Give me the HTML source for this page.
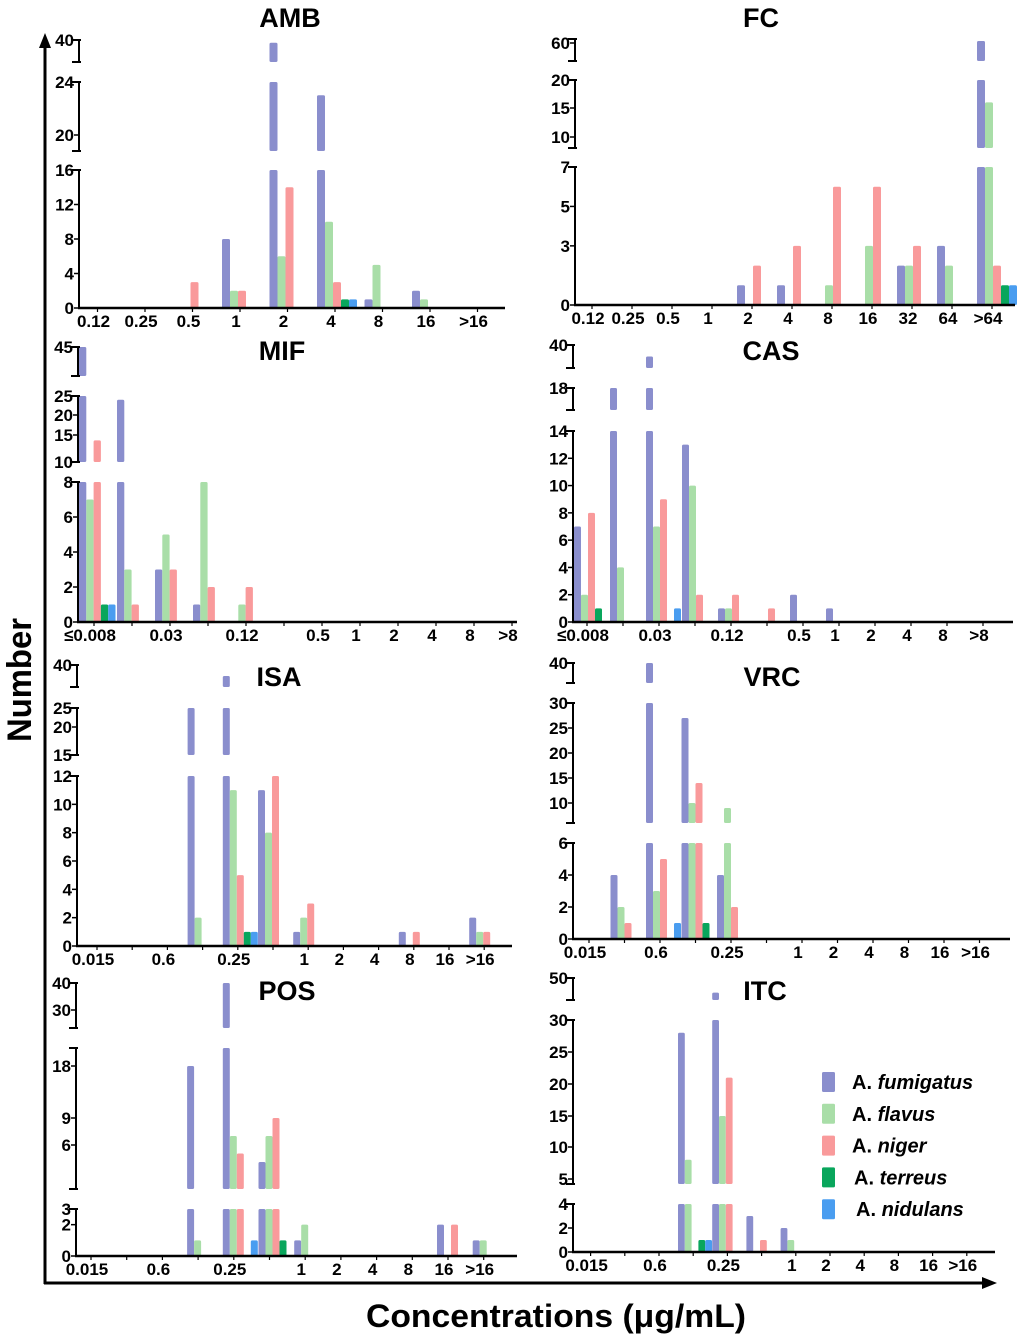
<!DOCTYPE html>
<html><head><meta charset="utf-8"><style>
html,body{margin:0;padding:0;background:#fff;}
svg{display:block;}
text{font-family:"Liberation Sans",sans-serif;font-weight:bold;fill:#000;}
</style></head><body>
<svg id="chart" width="1019" height="1339" viewBox="0 0 1019 1339" xmlns="http://www.w3.org/2000/svg">
<g>
<line x1="45" y1="1284" x2="45" y2="44" stroke="#000" stroke-width="3"/>
<polygon points="45,33 39,48 51,48" fill="#000"/>
</g>
<g>
<line x1="44" y1="1283" x2="985" y2="1283" stroke="#000" stroke-width="3"/>
<polygon points="997,1283 982,1277 982,1289" fill="#000"/>
</g>
<text x="0" y="0" transform="translate(31,680) rotate(-90)" text-anchor="middle" font-size="34" textLength="124" lengthAdjust="spacingAndGlyphs">Number</text>
<text x="556" y="1327" text-anchor="middle" font-size="32" textLength="380" lengthAdjust="spacingAndGlyphs">Concentrations (μg/mL)</text>
<g id="panels"></g>
<g id="legend"></g>
</svg>
<script>
// ---- data ----
const ambCats=["0.12","0.25","0.5","1","2","4","8","16",">16"];
const ambFum=[0,0,0,8,39.5,23,1,2,0];
const ambFla=[0,0,0,2,6,10,5,1,0];
const ambNig=[0,0,3,2,14,3,0,0,0];
const ambTer=[0,0,0,0,0,1,0,0,0];
const ambNid=[0,0,0,0,0,1,0,0,0];

const fcCats=["0.12","0.25","0.5","1","2","4","8","16","32","64",">64"];
const fcFum=[0,0,0,0,1,1,0,0,2,3,61];
const fcFla=[0,0,0,0,0,0,1,3,2,2,16];
const fcNig=[0,0,0,0,2,3,6,6,3,0,2];
const fcTer=[0,0,0,0,0,0,0,0,0,0,1];
const fcNid=[0,0,0,0,0,0,0,0,0,0,1];

const mifCats=["≤0.008","","0.03","","0.12","","0.5","1","2","4","8",">8"];
const mifFum=[45,24,3,1,0,0,0,0,0,0,0,0];
const mifFla=[7,3,5,8,1,0,0,0,0,0,0,0];
const mifNig=[14,1,3,2,2,0,0,0,0,0,0,0];
const mifTer=[1,0,0,0,0,0,0,0,0,0,0,0];
const mifNid=[1,0,0,0,0,0,0,0,0,0,0,0];

const casCats=["≤0.008","","0.03","","0.12","","0.5","1","2","4","8",">8"];
const casFum=[7,18,38,13,1,0,2,1,0,0,0,0];
const casFla=[2,4,7,10,1,0,0,0,0,0,0,0];
const casNig=[8,0,9,2,2,1,0,0,0,0,0,0];
const casTer=[1,0,0,0,0,0,0,0,0,0,0,0];
const casNid=[0,0,1,0,0,0,0,0,0,0,0,0];

const isaCats=["0.015","","0.6","","0.25","","1","2","4","8","16",">16"];
const isaFum=[0,0,0,25,38,11,1,0,0,1,0,2];
const isaFla=[0,0,0,2,11,8,2,0,0,0,0,1];
const isaNig=[0,0,0,0,5,12,3,0,0,1,0,1];
const isaTer=[0,0,0,0,1,0,0,0,0,0,0,0];
const isaNid=[0,0,0,0,1,0,0,0,0,0,0,0];

const vrcCats=["0.015","","0.6","","0.25","","1","2","4","8","16",">16"];
const vrcFum=[0,4,40,27,4,0,0,0,0,0,0,0];
const vrcFla=[0,2,3,10,9,0,0,0,0,0,0,0];
const vrcNig=[0,1,5,14,2,0,0,0,0,0,0,0];
const vrcTer=[0,0,0,1,0,0,0,0,0,0,0,0];
const vrcNid=[0,0,1,0,0,0,0,0,0,0,0,0];

const posCats=["0.015","","0.6","","0.25","","1","2","4","8","16",">16"];
const posFum=[0,0,0,18,40,5,1,0,0,0,2,1];
const posFla=[0,0,0,1,7,7,2,0,0,0,0,1];
const posNig=[0,0,0,0,5.5,9,0,0,0,0,2,0];
const posTer=[0,0,0,0,0,1,0,0,0,0,0,0];
const posNid=[0,0,0,0,1,0,0,0,0,0,0,0];

const itcCats=["0.015","","0.6","","0.25","","1","2","4","8","16",">16"];
const itcFum=[0,0,28,46,3,2,0,0,0,0,0,0];
const itcFla=[0,0,8,15,0,1,0,0,0,0,0,0];
const itcNig=[0,0,0,21,1,0,0,0,0,0,0,0];
const itcTer=[0,0,1,0,0,0,0,0,0,0,0,0];
const itcNid=[0,0,1,0,0,0,0,0,0,0,0,0];

const speciesNames=["fumigatus","flavus","niger","terreus","nidulans"];
const speciesColors=["#8a8ecd","#a9dea8","#f99a9b","#09a65c","#4a9df0"];

// ---- layout (axis scale definitions) ----
const panels=[
 {id:"amb",title:"AMB",tx:290,ty:27,ax:79,base:308,xEnd:505,g0:79.5,step:47.5,bw:8,lo:14,
  cats:ambCats,series:[ambFum,ambFla,ambNig,ambTer,ambNid],
  segs:[{a:[[0,308],[16,170]],t:[0,4,8,12,16]},{a:[[18.8,151],[20,135],[24,82]],t:[20,24]},{a:[[36,62],[40,40]],t:[40]}]},
 {id:"fc",title:"FC",tx:761,ty:27,ax:575,base:305,xEnd:1015,g0:577,step:40,bw:8,lo:11,
  cats:fcCats,series:[fcFum,fcFla,fcNig,fcTer,fcNid],
  segs:[{a:[[0,305],[7,167]],t:[0,3,5,7]},{a:[[8,148],[10,137],[15,108],[20,80]],t:[10,15,20]},{a:[[50,61],[60,43],[62,39]],t:[60]}]},
 {id:"mif",title:"MIF",tx:282,ty:360,ax:78,base:622,xEnd:517,g0:79,step:38,bw:7.3,lo:11,
  cats:mifCats,series:[mifFum,mifFla,mifNig,mifTer,mifNid],
  segs:[{a:[[0,622],[8,482]],t:[0,2,4,6,8]},{a:[[10,462],[15,435],[20,415],[25,396]],t:[10,15,20,25]},{a:[[40,376],[45,347]],t:[45]}]},
 {id:"cas",title:"CAS",tx:771,ty:360,ax:573,base:622,xEnd:1013,g0:574,step:36,bw:7,lo:9,
  cats:casCats,series:[casFum,casFla,casNig,casTer,casNid],
  segs:[{a:[[0,622],[14,431]],t:[0,2,4,6,8,10,12,14]},{a:[[16.4,410],[18,388]],t:[18]},{a:[[36,368],[40,345]],t:[40]}]},
 {id:"isa",title:"ISA",tx:279,ty:686,ax:77,base:946,xEnd:512,g0:82,step:35.2,bw:7,lo:11,
  cats:isaCats,series:[isaFum,isaFla,isaNig,isaTer,isaNid],
  segs:[{a:[[0,946],[12,776]],t:[0,2,4,6,8,10,12]},{a:[[15,755],[20,727],[25,708]],t:[15,20,25]},{a:[[36,687],[40,665]],t:[40]}]},
 {id:"vrc",title:"VRC",tx:772,ty:686,ax:573,base:939,xEnd:1010,g0:575,step:35.5,bw:7,lo:10,
  cats:vrcCats,series:[vrcFum,vrcFla,vrcNig,vrcTer,vrcNid],
  segs:[{a:[[0,939],[6,843]],t:[0,2,4,6]},{a:[[6,823],[10,803],[15,778],[20,753],[25,728],[30,703]],t:[10,15,20,25,30]},{a:[[36,683],[40,663]],t:[40]}]},
 {id:"pos",title:"POS",tx:287,ty:1000,ax:76,base:1256,xEnd:517,g0:80,step:35.7,bw:7,lo:7,
  cats:posCats,series:[posFum,posFla,posNig,posTer,posNid],
  segs:[{a:[[0,1256],[3,1209]],t:[0,2,3]},{a:[[4,1189],[5,1162],[6,1145],[9,1118],[18,1066],[22,1048]],t:[6,9,18]},{a:[[23,1028],[30,1010],[40,983]],t:[30,40]}]},
 {id:"itc",title:"ITC",tx:765,ty:1000,ax:573,base:1252,xEnd:995,g0:609.6,step:34.2,bw:6.8,lo:-23,
  cats:itcCats,series:[itcFum,itcFla,itcNig,itcTer,itcNid],
  segs:[{a:[[0,1252],[4,1204]],t:[0,2,4]},{a:[[4.2,1184],[5,1179],[10,1147],[15,1116],[20,1084],[25,1052],[30,1020]],t:[5,10,15,20,25,30]},{a:[[44,1000],[50,978]],t:[50]}]}
];

const NS="http://www.w3.org/2000/svg";
function mk(tag,attrs,parent){const e=document.createElementNS(NS,tag);for(const k in attrs)e.setAttribute(k,attrs[k]);parent.appendChild(e);return e;}
function yMap(seg,v){const a=seg.a;let i=0;while(i<a.length-2&&v>a[i+1][0])i++;const p=a[i],q=a[i+1];return p[1]+(v-p[0])*(q[1]-p[1])/(q[0]-p[0]);}
function xBar(p,i,s){return p.g0+p.step*i+s*p.bw;}
function xLabel(p,i){return p.g0+p.step*i+p.lo;}

const root=document.getElementById("panels");
panels.forEach(p=>{
  const g=mk("g",{},root);
  
  
  const t=mk("text",{x:p.tx,y:p.ty,"text-anchor":"middle","font-size":27},g);
  t.textContent=p.title;
  
  
  const bg=mk("g",{},g);
  
  
  p.series.forEach((vals,s)=>{
    vals.forEach((v,i)=>{
      if(v<=0)return;
      p.segs.forEach((seg,k)=>{
        const lo=k===0?0:seg.a[0][0], hi=seg.a[seg.a.length-1][0];
        if(v<=lo)return;
        const vv=Math.min(v,hi);
        const y0=yMap(seg,lo), y1=yMap(seg,vv);
        const r=mk("rect",{x:xBar(p,i,s),y:y1,width:p.bw,height:Math.max(0,y0-y1),fill:speciesColors[s],rx:1.5},bg);
        
        
      });
    });
  });
  const yg=mk("g",{},g);
  
  
  p.segs.forEach((seg,k)=>{
    const bot=seg.a[0][1], top=seg.a[seg.a.length-1][1];
    mk("line",{x1:p.ax,y1:bot,x2:p.ax,y2:top,stroke:"#000","stroke-width":2},yg);
    mk("line",{x1:p.ax-7,y1:top,x2:p.ax+2,y2:top,stroke:"#000","stroke-width":2},yg);
    if(k>0)mk("line",{x1:p.ax-7,y1:bot,x2:p.ax+2,y2:bot,stroke:"#000","stroke-width":2},yg);
    seg.t.forEach(v=>{
      const y=yMap(seg,v);
      mk("line",{x1:p.ax-5,y1:y,x2:p.ax,y2:y,stroke:"#000","stroke-width":1.5},yg);
      const tl=mk("text",{x:p.ax-5,y:y+6,"text-anchor":"end","font-size":17},yg);
      tl.textContent=String(v);
      
      
    });
  });
  const xg=mk("g",{},g);
  
  
  mk("line",{x1:p.ax-1,y1:p.base,x2:p.xEnd,y2:p.base,stroke:"#000","stroke-width":2.5},xg);
  p.cats.forEach((c,i)=>{
    const x=xLabel(p,i);
    mk("line",{x1:x+4,y1:p.base,x2:x+4,y2:p.base+4,stroke:"#000","stroke-width":1.2},xg);
    if(!c)return;
    const tl=mk("text",{x:x,y:p.base+19,"text-anchor":"middle","font-size":17},xg);
    tl.textContent=c;
    
    
  });
});

const lg=document.getElementById("legend");
speciesNames.forEach((n,s)=>{
  const cy=1082+s*31.8;
  const e=mk("g",{},lg);
  
  
  mk("rect",{x:822,y:cy-10,width:13,height:20,fill:speciesColors[s],rx:1.5},e);
  const t=mk("text",{x:852+(s>=3?2:0)+(s===4?2:0),y:cy+7,"font-size":20},e);
  t.textContent="A. ";
  const ts=mk("tspan",{"font-style":"italic"},t);
  ts.textContent=n;
});
</script>
</body></html>
